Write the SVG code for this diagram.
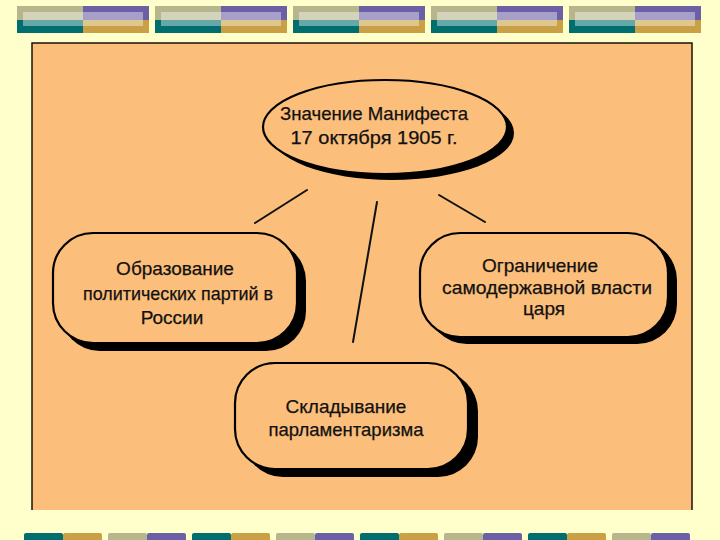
<svg xmlns="http://www.w3.org/2000/svg" width="720" height="540" viewBox="0 0 720 540">
<defs>
<style>
.bg{fill:#ffffcc}
.panel{fill:#fbbe7b}
.edge{fill:none;stroke:#1a1208;stroke-width:1.5}
.node{fill:#fbbe7b;stroke:#000;stroke-width:2.2}
.shadow{fill:#000}
.lbl{font-family:"Liberation Sans","DejaVu Sans",sans-serif;font-size:19px;fill:#111;stroke:#111;stroke-width:0.25;text-anchor:middle}
.conn{stroke:#111;stroke-width:2;fill:none;stroke-linecap:round}
.t1{fill:#b6b58c}.t2{fill:#006e6e}.t3{fill:#6b5fa6}.t4{fill:#c9a045}
.hl{fill:#ffffff;opacity:0.4}
</style>
<g id="tile">
<rect x="0" y="0" width="66" height="14" class="t1"/>
<rect x="0" y="14" width="66" height="13" class="t2"/>
<rect x="66" y="0" width="66" height="14" class="t3"/>
<rect x="66" y="14" width="66" height="13" class="t4"/>
<rect x="6" y="6" width="120" height="14" class="hl"/>
</g>
</defs>
<rect class="bg" x="0" y="0" width="720" height="540"/>
<g id="top-banner">
<use href="#tile" x="17" y="6"/>
<use href="#tile" x="155" y="6"/>
<use href="#tile" x="293" y="6"/>
<use href="#tile" x="431" y="6"/>
<use href="#tile" x="569" y="6"/>
</g>
<g id="bottom-banner">
<rect x="24" y="533" width="39" height="10" rx="2" class="t2"/><rect x="63" y="533" width="39" height="10" rx="2" class="t4"/>
<rect x="108" y="533" width="39" height="10" rx="2" class="t1"/><rect x="147" y="533" width="39" height="10" rx="2" class="t3"/>
<rect x="192" y="533" width="39" height="10" rx="2" class="t2"/><rect x="231" y="533" width="39" height="10" rx="2" class="t4"/>
<rect x="276" y="533" width="39" height="10" rx="2" class="t1"/><rect x="315" y="533" width="39" height="10" rx="2" class="t3"/>
<rect x="360" y="533" width="39" height="10" rx="2" class="t2"/><rect x="399" y="533" width="39" height="10" rx="2" class="t4"/>
<rect x="444" y="533" width="39" height="10" rx="2" class="t1"/><rect x="483" y="533" width="39" height="10" rx="2" class="t3"/>
<rect x="528" y="533" width="39" height="10" rx="2" class="t2"/><rect x="567" y="533" width="39" height="10" rx="2" class="t4"/>
<rect x="612" y="533" width="39" height="10" rx="2" class="t1"/><rect x="651" y="533" width="39" height="10" rx="2" class="t3"/>
</g>
<rect class="panel" x="32" y="43" width="660" height="467"/>
<path class="edge" d="M32,510 V43 H692 V510"/>
<g id="connectors">
<line class="conn" x1="255" y1="223" x2="307" y2="190"/>
<line class="conn" x1="377" y1="202" x2="353" y2="342"/>
<line class="conn" x1="439" y1="195" x2="485" y2="222"/>
</g>
<g id="node-center">
<ellipse class="shadow" cx="392" cy="133" rx="122" ry="47"/>
<ellipse class="node" cx="385" cy="127" rx="122" ry="47"/>
<text class="lbl" x="374" y="120" textLength="188" lengthAdjust="spacingAndGlyphs">Значение Манифеста</text>
<text class="lbl" x="374" y="144" textLength="167" lengthAdjust="spacingAndGlyphs">17 октября 1905 г.</text>
</g>
<g id="node-parties">
<rect class="shadow" x="60" y="241" width="246" height="110" rx="40"/>
<rect class="node" x="53" y="233" width="244" height="110" rx="40"/>
<text class="lbl" x="175" y="275">Образование</text>
<text class="lbl" x="178" y="300" textLength="190" lengthAdjust="spacingAndGlyphs">политических партий в</text>
<text class="lbl" x="172" y="324">России</text>
</g>
<g id="node-autocracy">
<rect class="shadow" x="427" y="240" width="250" height="104" rx="40"/>
<rect class="node" x="420" y="233" width="248" height="104" rx="40"/>
<text class="lbl" x="540" y="272">Ограничение</text>
<text class="lbl" x="547" y="294" textLength="210" lengthAdjust="spacingAndGlyphs">самодержавной власти</text>
<text class="lbl" x="544" y="315">царя</text>
</g>
<g id="node-parliament">
<rect class="shadow" x="243" y="371" width="235" height="106" rx="40"/>
<rect class="node" x="235" y="363" width="233" height="106" rx="40"/>
<text class="lbl" x="346" y="413">Складывание</text>
<text class="lbl" x="346" y="436" textLength="155" lengthAdjust="spacingAndGlyphs">парламентаризма</text>
</g>
</svg>
